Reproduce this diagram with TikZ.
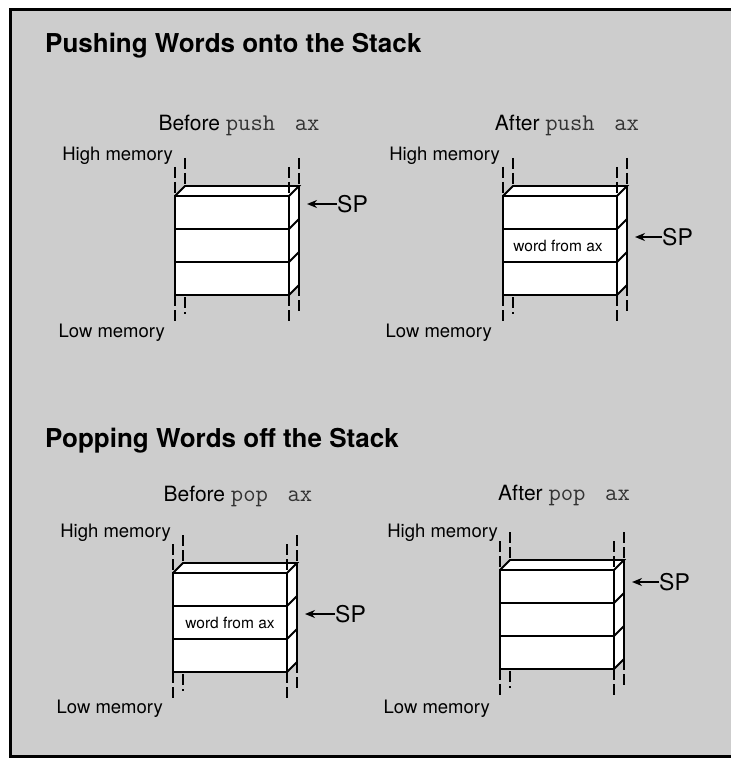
\documentclass[tikz,border=0pt]{standalone}
\usepackage{fontspec}
\setmainfont{TeX Gyre Heros}
\usetikzlibrary{arrows.meta}
\definecolor{bggray}{RGB}{205,205,205}
\newcommand\monotext[1]{{\ttfamily\fontsize{24}{26}\selectfont\color{black!80}#1}}
\tikzset{
  outline/.style={line width=1.8pt, line join=miter},
  hid/.style={line width=1.4pt, dash pattern=on 11pt off 4pt},
  title/.style={font=\bfseries\fontsize{26}{28}\selectfont, inner sep=0pt},
  caption/.style={font=\fontsize{21}{23}\selectfont, inner sep=0pt},
  memlabel/.style={font=\fontsize{18.5}{20}\selectfont, inner sep=0pt},
  wordlabel/.style={font=\fontsize{15.5}{17}\selectfont, inner sep=0pt},
  splabel/.style={font=\fontsize{23}{25}\selectfont, inner sep=0pt},
  sparrow/.style={line width=2pt, -{Stealth[length=10pt,width=8pt]}},
  pics/stackbox/.style={code={
    \fill[white] (0,0) -- (10,-10) -- (124,-10) -- (124,89) -- (114,99) -- (0,99) -- cycle;
    \draw[outline] (0,0) rectangle (114,99);
    \draw[outline] (0,33) -- (114,33) (0,66) -- (114,66);
    \draw[outline] (0,0) -- (10,-10) -- (124,-10) -- (114,0);
    \draw[outline] (124,-10) -- (124,89) -- (114,99);
    \draw[outline] (114,33) -- (124,23) (114,66) -- (124,56);
    \draw[hid] (0,-29) -- (0,0) (10,-38) -- (10,-10) (114,-29) -- (114,0) (124,-38) -- (124,-10);
    \draw[hid] (0,99) -- (0,128) (10,101) -- (10,118) (114,99) -- (114,128) (124,89) -- (124,118);
  }}
}
\begin{document}
\begin{tikzpicture}[x=1pt,y=-1pt]
\useasboundingbox (0,0) rectangle (731,759);
\fill[white] (0,0) rectangle (731,759);
\fill[bggray] (10,10) rectangle (731,756);
\draw[line width=3pt] (731,10) -- (10,10) -- (10,756) -- (731,756);

% ---------- Pushing ----------
\node[title, anchor=base west] (t1) at (45,53) {Pushing Words onto the Stack};
\node[caption, anchor=base] (c1) at (239,131) {Before \monotext{push\hspace{0.3em} ax}};
\node[caption, anchor=base] (c2) at (567,131) {After \monotext{push\hspace{0.3em} ax}};

\node[memlabel, anchor=base east] (h1) at (173,161) {High memory};
\node[memlabel, anchor=base east] (l1) at (165,337) {Low memory};
\pic at (175,196) {stackbox};
\node[splabel, anchor=west] (sp1) at (337,204) {SP};
\coordinate (sp1t) at (307,204);
\draw[sparrow] (sp1.west) -- (sp1t);

\node[memlabel, anchor=base east] (h2) at (500,161) {High memory};
\node[memlabel, anchor=base east] (l2) at (492,337) {Low memory};
\pic at (503,196) {stackbox};
\node[wordlabel] (w2) at (558,246) {word from ax};
\node[splabel, anchor=west] (sp2) at (662,237) {SP};
\coordinate (sp2t) at (635,237);
\draw[sparrow] (sp2.west) -- (sp2t);

% ---------- Popping ----------
\node[title, anchor=base west] (t2) at (45,447) {Popping Words off the Stack};
\node[caption, anchor=base] (c3) at (238,501) {Before \monotext{pop\hspace{0.3em} ax}};
\node[caption, anchor=base] (c4) at (564,500) {After \monotext{pop\hspace{0.3em} ax}};

\node[memlabel, anchor=base east] (h3) at (171,537) {High memory};
\node[memlabel, anchor=base east] (l3) at (163,713) {Low memory};
\pic at (173,573) {stackbox};
\node[wordlabel] (w3) at (230,623) {word from ax};
\node[splabel, anchor=west] (sp3) at (335,614) {SP};
\coordinate (sp3t) at (305,614);
\draw[sparrow] (sp3.west) -- (sp3t);

\node[memlabel, anchor=base east] (h4) at (498,537) {High memory};
\node[memlabel, anchor=base east] (l4) at (490,713) {Low memory};
\pic at (500,570) {stackbox};
\node[splabel, anchor=west] (sp4) at (659,582) {SP};
\coordinate (sp4t) at (632,582);
\draw[sparrow] (sp4.west) -- (sp4t);
\end{tikzpicture}
\end{document}
